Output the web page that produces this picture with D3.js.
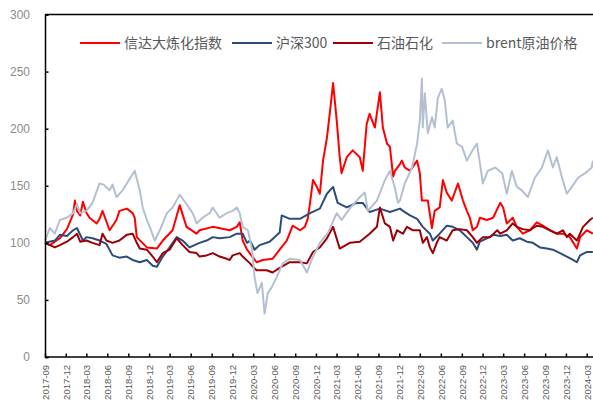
<!DOCTYPE html>
<html><head><meta charset="utf-8">
<script src="https://cdn.jsdelivr.net/npm/d3@7"></script>
<style>
html,body{margin:0;padding:0;background:#fff;}
svg{display:block;}
</style></head>
<body>
<svg id="chart" width="593" height="403"></svg>
<script>
const seriesNames = ["信达大炼化指数", "沪深300", "石油石化", "brent原油价格"];
const seriesColors = ["#FF0000", "#2F4B7C", "#9C0006", "#B4C0D2"];

const xinda = [
["2017-09-01",100],["2017-09-22",98],["2017-10-14",101],["2017-11-05",104],["2017-12-06",112],["2018-01-02",125],["2018-01-10",137],["2018-01-19",128],["2018-02-02",124],["2018-02-14",136],["2018-03-02",126],["2018-03-15",122],["2018-04-15",117],["2018-04-28",121],["2018-05-11",128],["2018-06-11",111],["2018-07-11",120],["2018-07-24",128],["2018-08-25",130],["2018-09-20",126],["2018-09-29",122],["2018-10-08",105],["2018-11-21",96],["2019-01-04",95],["2019-01-30",102],["2019-03-14",111],["2019-04-14",133],["2019-05-14",114],["2019-06-27",108],["2019-07-10",111],["2019-09-06",114],["2019-11-19",111],["2019-12-20",114],["2020-01-02",118],["2020-01-15",102],["2020-02-03",94],["2020-03-16",83],["2020-04-12",85],["2020-05-25",86],["2020-06-25",94],["2020-07-26",102],["2020-08-21",115],["2020-09-22",111],["2020-10-13",114],["2020-10-26",121],["2020-11-05",135],["2020-11-18",155],["2020-12-05",149],["2020-12-18",143],["2021-01-01",172],["2021-01-18",192],["2021-02-01",216],["2021-02-14",240],["2021-03-02",207],["2021-03-15",175],["2021-03-23",161],["2021-04-15",175],["2021-05-11",181],["2021-06-11",175],["2021-06-24",163],["2021-07-11",204],["2021-07-24",213],["2021-08-16",201],["2021-09-07",232],["2021-09-20",201],["2021-10-08",187],["2021-10-21",184],["2021-11-04",158],["2021-11-12",163],["2021-12-04",169],["2021-12-12",172],["2021-12-25",166],["2022-01-17",163],["2022-02-17",172],["2022-03-01",161],["2022-03-10",137],["2022-04-05",137],["2022-04-23",113],["2022-05-05",128],["2022-05-27",131],["2022-06-10",155],["2022-06-27",144],["2022-07-19",137],["2022-08-15",152],["2022-09-06",137],["2022-09-23",128],["2022-10-06",122],["2022-10-19",111],["2022-11-06",114],["2022-11-19",122],["2022-12-20",120],["2023-01-16",122],["2023-02-16",135],["2023-03-01",131],["2023-03-17",117],["2023-04-12",122],["2023-04-30",114],["2023-05-26",108],["2023-06-26",111],["2023-07-26",118],["2023-08-22",115],["2023-09-22",111],["2023-10-22",108],["2023-11-18",108],["2023-12-18",105],["2024-01-18",95],["2024-02-01",105],["2024-03-02",111],["2024-03-28",108]
];

const hs300 = [
["2017-09-01",100],["2017-10-14",102],["2017-11-05",107],["2017-12-06",106],["2018-01-02",111],["2018-01-19",113],["2018-02-14",102],["2018-03-02",105],["2018-03-28",104],["2018-04-28",102],["2018-05-28",99],["2018-06-24",89],["2018-07-24",87],["2018-08-25",88],["2018-09-20",85],["2018-10-21",83],["2018-11-21",85],["2018-12-17",80],["2019-01-04",79],["2019-01-30",88],["2019-03-01",96],["2019-04-01",105],["2019-04-27",102],["2019-05-27",96],["2019-07-10",100],["2019-08-10",102],["2019-09-06",105],["2019-10-06",104],["2019-11-19",105],["2019-12-20",108],["2020-01-15",108],["2020-02-03",100],["2020-02-16",102],["2020-03-07",94],["2020-03-29",98],["2020-05-12",101],["2020-06-25",109],["2020-07-04",124],["2020-08-08",121],["2020-09-22",121],["2020-11-05",126],["2020-12-18",130],["2021-01-18",143],["2021-02-14",149],["2021-03-06",135],["2021-04-15",131],["2021-05-28",135],["2021-06-24",135],["2021-07-24",127],["2021-09-07",130],["2021-10-21",127],["2021-12-04",130],["2021-12-17",128],["2022-01-17",124],["2022-02-17",121],["2022-03-14",114],["2022-04-14",108],["2022-04-27",102],["2022-05-27",108],["2022-06-27",115],["2022-07-23",114],["2022-08-23",111],["2022-09-23",105],["2022-10-19",100],["2022-11-06",94],["2022-11-19",101],["2022-12-20",104],["2023-01-16",107],["2023-02-16",106],["2023-03-17",107],["2023-04-12",102],["2023-05-13",104],["2023-06-13",101],["2023-07-09",100],["2023-08-09",96],["2023-09-09",95],["2023-10-05",94],["2023-11-05",91],["2023-12-05",88],["2024-01-01",85],["2024-01-18",83],["2024-02-01",89],["2024-03-02",92],["2024-03-28",92]
];

const syshh = [
["2017-09-01",100],["2017-10-14",96],["2017-11-05",98],["2017-12-06",101],["2018-01-02",105],["2018-01-19",108],["2018-02-02",101],["2018-03-02",102],["2018-03-28",100],["2018-04-28",98],["2018-05-11",108],["2018-05-28",102],["2018-06-24",100],["2018-07-24",102],["2018-08-25",107],["2018-09-20",108],["2018-10-08",100],["2018-10-21",95],["2018-11-21",94],["2018-12-17",88],["2019-01-04",83],["2019-01-30",91],["2019-03-01",94],["2019-04-01",104],["2019-04-27",98],["2019-05-27",92],["2019-06-27",91],["2019-07-10",88],["2019-08-10",89],["2019-09-06",91],["2019-10-06",88],["2019-11-06",86],["2019-11-19",85],["2019-12-02",89],["2020-01-02",91],["2020-01-15",88],["2020-02-16",82],["2020-02-29",79],["2020-03-16",76],["2020-04-29",76],["2020-05-25",74],["2020-06-25",78],["2020-08-08",83],["2020-09-22",83],["2020-10-22",82],["2020-11-18",92],["2020-12-18",96],["2021-01-18",104],["2021-02-14",114],["2021-03-15",95],["2021-04-28",100],["2021-06-11",101],["2021-07-24",108],["2021-08-25",114],["2021-09-07",131],["2021-09-29",117],["2021-10-21",114],["2021-11-04",102],["2021-11-21",111],["2021-12-17",108],["2022-01-04",114],["2022-01-30",111],["2022-03-01",111],["2022-03-14",100],["2022-04-01",105],["2022-04-14",96],["2022-04-27",91],["2022-05-14",100],["2022-05-27",105],["2022-06-27",102],["2022-07-23",111],["2022-08-23",112],["2022-09-23",111],["2022-10-19",105],["2022-11-06",100],["2022-12-02",105],["2023-01-03",105],["2023-02-03",111],["2023-02-16",108],["2023-03-17",111],["2023-04-12",117],["2023-04-30",114],["2023-05-26",112],["2023-06-26",111],["2023-07-26",115],["2023-08-22",114],["2023-09-22",111],["2023-10-22",108],["2023-11-18",111],["2023-12-05",105],["2023-12-18",108],["2024-01-18",102],["2024-02-14",114],["2024-03-15",120],["2024-03-28",122]
];

const brent = [
["2017-09-01",102],["2017-09-22",113],["2017-10-14",108],["2017-11-05",120],["2017-12-06",122],["2018-01-02",126],["2018-01-19",134],["2018-02-02",126],["2018-03-02",128],["2018-03-28",135],["2018-04-28",152],["2018-05-16",151],["2018-06-11",146],["2018-06-24",151],["2018-07-11",140],["2018-08-07",146],["2018-09-07",156],["2018-09-29",163],["2018-10-21",146],["2018-11-03",131],["2018-11-21",120],["2018-12-04",114],["2018-12-26",102],["2019-01-17",111],["2019-02-17",126],["2019-03-14",131],["2019-04-14",142],["2019-05-14",134],["2019-06-10",126],["2019-06-27",117],["2019-07-23",122],["2019-08-23",126],["2019-09-06",131],["2019-10-06",122],["2019-11-06",126],["2019-12-02",128],["2019-12-20",131],["2020-01-02",126],["2020-01-15",114],["2020-02-07",111],["2020-02-25",94],["2020-03-07",70],["2020-03-20",56],["2020-04-08",65],["2020-04-20",38],["2020-05-04",56],["2020-05-21",61],["2020-06-12",70],["2020-07-08",82],["2020-08-08",86],["2020-09-22",85],["2020-10-22",74],["2020-11-14",86],["2020-12-18",100],["2021-01-23",109],["2021-03-02",126],["2021-03-23",120],["2021-04-28",130],["2021-06-11",140],["2021-07-03",144],["2021-07-16",128],["2021-08-25",137],["2021-09-29",155],["2021-10-21",163],["2021-11-12",148],["2021-11-25",135],["2021-12-04",137],["2021-12-25",152],["2022-01-26",166],["2022-02-17",187],["2022-03-01",207],["2022-03-10",244],["2022-03-14",201],["2022-03-23",231],["2022-04-05",196],["2022-04-23",210],["2022-05-05",201],["2022-05-19",227],["2022-06-05",235],["2022-06-18",225],["2022-07-01",201],["2022-07-23",207],["2022-08-10",187],["2022-09-02",184],["2022-09-23",172],["2022-10-15",180],["2022-11-06",187],["2022-11-19",170],["2022-12-02",152],["2022-12-24",163],["2023-01-25",166],["2023-02-25",161],["2023-03-17",143],["2023-04-08",163],["2023-04-30",149],["2023-05-22",146],["2023-06-17",140],["2023-07-18",157],["2023-08-18",166],["2023-09-13",181],["2023-10-05",166],["2023-10-22",175],["2023-11-14",157],["2023-12-05",143],["2023-12-27",149],["2024-01-23",157],["2024-02-23",161],["2024-03-23",166],["2024-03-28",172]
];

const xTickLabels = ["2017-09","2017-12","2018-03","2018-06","2018-09","2018-12","2019-03","2019-06","2019-09","2019-12","2020-03","2020-06","2020-09","2020-12","2021-03","2021-06","2021-09","2021-12","2022-03","2022-06","2022-09","2022-12","2023-03","2023-06","2023-09","2023-12","2024-03"];
const yTicks = [0,50,100,150,200,250,300];

const allSeries = [xinda, hs300, syshh, brent];
const parse = d3.timeParse("%Y-%m-%d");
const parseM = d3.timeParse("%Y-%m");

const svg = d3.select("#chart");
const pLeft = 45, pRight = 593, pTop = 14.5, pBottom = 357;

const x = d3.scaleTime()
  .domain([parseM("2017-09"), parseM("2024-03")])
  .range([pLeft, 586.7]);
const y = d3.scaleLinear().domain([0,300]).range([pBottom, pTop]);

// top border
svg.append("line").attr("x1", pLeft).attr("x2", pRight).attr("y1", pTop).attr("y2", pTop)
  .attr("stroke", "#000").attr("stroke-width", 1.5);

// lines
const line = d3.line().x(d => x(parse(d[0]))).y(d => y(d[1])).curve(d3.curveLinear);
allSeries.forEach((s, i) => {
  svg.append("path").datum(s)
    .attr("fill", "none")
    .attr("stroke", seriesColors[i])
    .attr("stroke-width", 2)
    .attr("stroke-linejoin", "round")
    .attr("d", line);
});

// y axis
const yAxis = d3.axisLeft(y).tickValues(yTicks).tickSize(-3.5).tickPadding(15);
const gy = svg.append("g").attr("transform", `translate(${pLeft},0)`).call(yAxis);
gy.select(".domain").attr("stroke", "#000").attr("stroke-width", 1.5);
gy.selectAll(".tick line").attr("stroke", "#000").attr("stroke-width", 1.5);
gy.selectAll(".tick text").attr("fill", "#8c8c8c").attr("font-size", "12px")
  .attr("font-family", "Arial, 'Liberation Sans', sans-serif");

// x axis
const xAxis = d3.axisBottom(x).tickValues(xTickLabels.map(parseM)).tickSize(-3.5)
  .tickFormat(d3.timeFormat("%Y-%m"));
const gx = svg.append("g").attr("transform", `translate(0,${pBottom})`).call(xAxis);
gx.select(".domain").attr("stroke", "#000").attr("stroke-width", 1.5).attr("d", `M${pLeft},0H${pRight}`);
gx.selectAll(".tick line").attr("stroke", "#000").attr("stroke-width", 1.5);
gx.selectAll(".tick text")
  .attr("fill", "#595959").attr("font-size", "9.5px")
  .attr("font-family", "'Liberation Sans Narrow', 'Liberation Sans', Arial, sans-serif")
  .attr("transform", "rotate(-90)")
  .attr("text-anchor", "end")
  .attr("dy", "0.35em")
  .attr("x", -8).attr("y", 0);

// legend
const legendX = [80, 232, 333, 442];
const lg = svg.append("g");
seriesNames.forEach((n, i) => {
  lg.append("line").attr("x1", legendX[i]).attr("x2", legendX[i] + 40)
    .attr("y1", 43).attr("y2", 43)
    .attr("stroke", seriesColors[i]).attr("stroke-width", 2);
  lg.append("text").attr("x", legendX[i] + 44).attr("y", 48)
    .attr("fill", "#595959").attr("font-size", "14px")
    .attr("font-family", "'Noto Sans CJK SC', sans-serif")
    .text(n);
});
</script>
</body></html>
